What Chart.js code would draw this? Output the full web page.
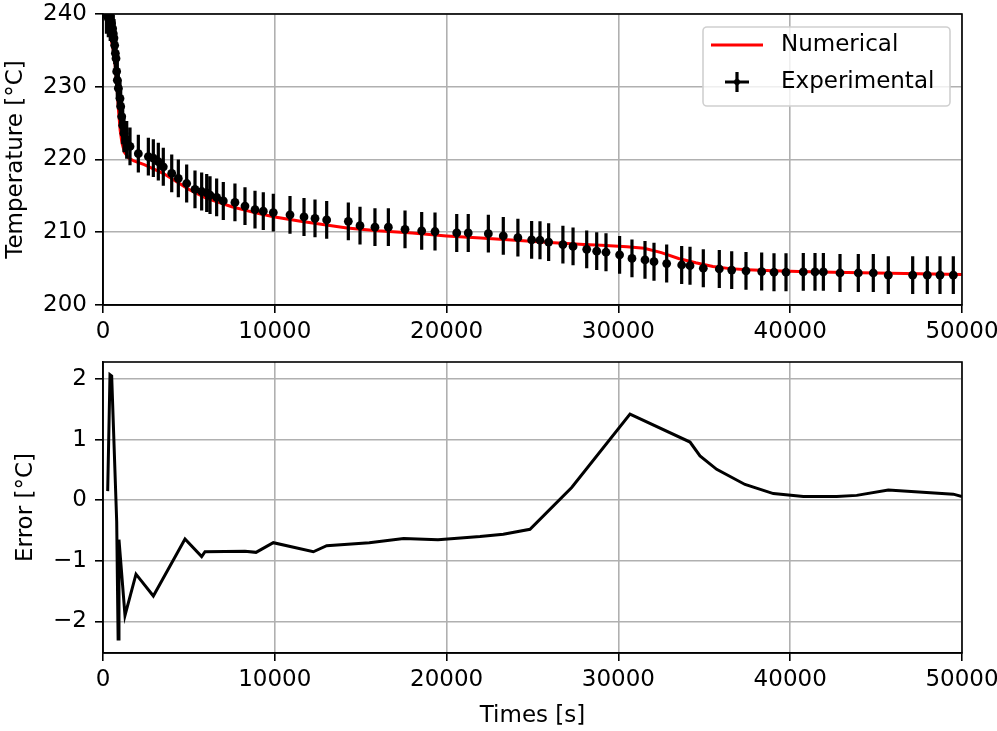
<!DOCTYPE html>
<html>
<head>
<meta charset="utf-8">
<script src="https://cdn.jsdelivr.net/npm/chart.js@4.4.1/dist/chart.umd.min.js"></script>
<style>
body { margin: 0; background: #fff; }
#wrap { position: relative; width: 997px; height: 731px; }
canvas { position: absolute; left: 0; }
</style>
</head>
<body>
<div id="wrap">
  <canvas id="tempChart" width="997" height="360" style="top:0"></canvas>
  <canvas id="errChart" width="997" height="391" style="top:340px"></canvas>
</div>
<script>
// Experimental measurements (time [s], temperature [°C])
var expTime = [200, 310, 420, 500, 560, 600, 640, 680, 720, 757, 795, 834, 893, 990, 1030, 1088, 1147, 1222, 1380, 1572,
    2057, 2640, 2930, 3220, 3510, 4000, 4385, 4870, 5355, 5743, 6036, 6230, 6615, 7002, 7680, 8265, 8848, 9330, 9913,
    10885, 11700, 12340, 13020, 14280, 14960, 15830, 16610, 17580, 18550, 19325, 20590, 21260, 22430, 23300, 24150,
    24950, 25436, 25940, 26770, 27360, 28155, 28737, 29278, 30070, 30790, 31548, 32072, 32810, 33683, 34168, 34942,
    35873, 36595, 37427, 38340, 39057, 39756, 40762, 41444, 41930, 42899, 43964, 44837, 45710, 47130, 47981, 48720, 49494];
var expTemp = [239.9, 239.4, 238.9, 238.7, 238.0, 237.3, 236.7, 235.7, 234.6, 233.9, 232.1, 230.9, 229.8, 228.4, 227.3, 225.9, 224.7, 223.6, 222.7, 221.8,
    220.8, 220.4, 220.2, 219.7, 219.0, 218.1, 217.4, 216.7, 215.9, 215.6, 215.4, 215.1, 214.8, 214.3, 214.1, 213.6, 213.1, 212.9, 212.7,
    212.4, 212.1, 211.9, 211.7, 211.5, 210.9, 210.7, 210.7, 210.4, 210.2, 210.1, 209.9, 209.9, 209.8, 209.5, 209.25,
    208.95, 208.9, 208.65, 208.3, 208.05, 207.65, 207.4, 207.25, 206.9, 206.4, 206.2, 205.95, 205.7, 205.5, 205.4, 205.05,
    204.95, 204.8, 204.7, 204.6, 204.5, 204.5, 204.55, 204.55, 204.55, 204.4, 204.4, 204.4, 204.1, 204.1, 204.1, 204.1, 204.1];
var expErr = 2.6;

// Numerical solution
var numTime = [0, 200, 400, 600, 700, 800, 900, 1000, 1100, 1250, 1500, 1800, 2400, 3500, 5000, 6000, 7500, 9000, 10000,
    11500, 13000, 14200, 16000, 18000, 20000, 22000, 24000, 26000, 28000, 29000, 30500, 31500, 32500, 33500, 34500,
    35500, 36500, 37500, 39000, 40500, 42500, 45000, 47500, 50000];
var numTemp = [240.5, 239.8, 237.5, 235.0, 233.2, 230.5, 226.8, 224.0, 222.3, 221.0, 220.2, 219.8, 219.3, 218.1, 215.9, 214.7, 213.5, 212.6, 212.1,
    211.5, 211.0, 210.6, 210.2, 209.9, 209.5, 209.2, 208.9, 208.6, 208.3, 208.2, 208.0, 207.8, 207.2, 206.4, 205.8,
    205.3, 205.0, 204.85, 204.7, 204.6, 204.5, 204.4, 204.3, 204.2];

// Error numerical - experimental
var errTime = [273, 407, 505, 797, 880, 930, 1280, 1921, 2930, 4773, 5743, 5937, 8265, 8906, 9914, 12243, 13020, 15500,
    17500, 19500, 21944, 23300, 24854, 27281, 30675, 34168, 34750, 35720, 37369, 39019, 40765, 42706, 43870, 45710, 49494, 50000];
var errVal = [0.15, 2.07, 2.05, -0.35, -2.29, -0.65, -1.90, -1.22, -1.58, -0.64, -0.93, -0.85, -0.84, -0.86, -0.70, -0.85, -0.75, -0.70,
    -0.63, -0.65, -0.60, -0.56, -0.48, 0.21, 1.42, 0.96, 0.73, 0.51, 0.26, 0.11, 0.06, 0.06, 0.08, 0.17, 0.10, 0.06];

var timeTicks = [0, 10000, 20000, 30000, 40000, 50000];
var tempTicks = [200, 210, 220, 230, 240];
var errTicks = [-2, -1, 0, 1, 2];

var FONT = { family: '"DejaVu Sans", sans-serif', size: 23 };
var GRID = '#b0b0b0';

function pts(xs, ys) {
    return xs.map(function (x, i) { return { x: x, y: ys[i] }; });
}
function fmt(v) {
    return String(v).replace('-', '\u2212');
}
function fixTicks(list) {
    return function (s) { s.ticks = list.map(function (v) { return { value: v }; }); };
}
function fixWidth(w) {
    return function (s) { s.width = w; s.paddingTop = 0; s.paddingBottom = 0; };
}
function fixHeight(h) {
    return function (s) { s.height = h; s.paddingLeft = 0; s.paddingRight = 0; };
}
function axisStyle() {
    return {
        grid: { color: GRID, lineWidth: 1.6, tickColor: '#000', tickWidth: 1.6, tickLength: 8 },
        border: { display: true, color: '#000', width: 1.6 },
    };
}

var frame = {
    id: 'frame',
    afterDraw: function (chart) {
        var a = chart.chartArea, ctx = chart.ctx;
        ctx.save();
        ctx.strokeStyle = '#000';
        ctx.lineWidth = 1.6;
        ctx.strokeRect(a.left, a.top, a.right - a.left, a.bottom - a.top);
        ctx.restore();
    }
};

var errorBars = {
    id: 'errorBars',
    beforeDatasetDraw: function (chart, args) {
        if (args.index !== 0) return;
        var ctx = chart.ctx, a = chart.chartArea;
        var xs = chart.scales.x, ys = chart.scales.y;
        ctx.save();
        ctx.beginPath();
        ctx.rect(a.left, a.top, a.right - a.left, a.bottom - a.top);
        ctx.clip();
        ctx.strokeStyle = '#000';
        ctx.lineWidth = 3.2;
        ctx.beginPath();
        for (var i = 0; i < expTime.length; i++) {
            var px = xs.getPixelForValue(expTime[i]);
            ctx.moveTo(px, ys.getPixelForValue(expTemp[i] + expErr));
            ctx.lineTo(px, ys.getPixelForValue(expTemp[i] - expErr));
        }
        ctx.stroke();
        ctx.restore();
    }
};

var legendBox = {
    id: 'legendBox',
    afterDraw: function (chart) {
        var ctx = chart.ctx, a = chart.chartArea;
        var w = 247, h = 79, x = a.right - 12 - w, y = a.top + 13;
        ctx.save();
        ctx.beginPath();
        ctx.roundRect(x, y, w, h, 4);
        ctx.fillStyle = 'rgba(255,255,255,0.8)';
        ctx.fill();
        ctx.strokeStyle = '#d0d0d0';
        ctx.lineWidth = 1.6;
        ctx.stroke();

        ctx.strokeStyle = '#ff0000';
        ctx.lineWidth = 3;
        ctx.beginPath();
        ctx.moveTo(x + 8, y + 18);
        ctx.lineTo(x + 60, y + 18);
        ctx.stroke();

        ctx.strokeStyle = '#000';
        ctx.lineWidth = 3.2;
        ctx.beginPath();
        ctx.moveTo(x + 22, y + 55);
        ctx.lineTo(x + 46, y + 55);
        ctx.moveTo(x + 34, y + 45);
        ctx.lineTo(x + 34, y + 65);
        ctx.stroke();
        ctx.beginPath();
        ctx.arc(x + 34, y + 55, 3, 0, Math.PI * 2);
        ctx.fillStyle = '#000';
        ctx.fill();

        ctx.font = FONT.size + 'px ' + FONT.family;
        ctx.textBaseline = 'middle';
        ctx.fillText('Numerical', x + 78, y + 18);
        ctx.fillText('Experimental', x + 78, y + 55);
        ctx.restore();
    }
};

Chart.defaults.font = FONT;
Chart.defaults.color = '#000';

new Chart(document.getElementById('tempChart').getContext('2d'), {
    type: 'scatter',
    data: {
        datasets: [{
            label: 'Experimental',
            data: pts(expTime, expTemp),
            pointRadius: 4.4,
            pointHoverRadius: 4.4,
            pointBackgroundColor: '#000',
            pointBorderWidth: 0,
            showLine: false,
            order: 0
        }, {
            label: 'Numerical',
            type: 'line',
            data: pts(numTime, numTemp),
            borderColor: '#ff0000',
            borderWidth: 3,
            pointRadius: 0,
            tension: 0,
            order: 1
        }]
    },
    options: {
        responsive: false,
        animation: false,
        devicePixelRatio: 1,
        layout: { padding: { left: 0, right: 35, top: 14, bottom: 0 } },
        plugins: { legend: { display: false }, tooltip: { enabled: false } },
        scales: {
            x: Object.assign(axisStyle(), {
                type: 'linear', min: 0, max: 50000,
                afterBuildTicks: fixTicks(timeTicks),
                afterFit: fixHeight(55),
                ticks: { callback: fmt, autoSkip: false, maxRotation: 0, padding: 5 }
            }),
            y: Object.assign(axisStyle(), {
                type: 'linear', min: 200, max: 240,
                afterBuildTicks: fixTicks(tempTicks),
                afterFit: fixWidth(103),
                ticks: { callback: fmt, autoSkip: false, padding: 8 },
                title: { display: true, text: 'Temperature [°C]', padding: { top: 2, bottom: 0 } }
            })
        }
    },
    plugins: [errorBars, frame, legendBox]
});

new Chart(document.getElementById('errChart').getContext('2d'), {
    type: 'scatter',
    data: {
        datasets: [{
            label: 'Error',
            type: 'line',
            data: pts(errTime, errVal),
            borderColor: '#000',
            borderWidth: 3,
            pointRadius: 0,
            tension: 0
        }]
    },
    options: {
        responsive: false,
        animation: false,
        devicePixelRatio: 1,
        layout: { padding: { left: 0, right: 35, top: 22, bottom: 0 } },
        plugins: { legend: { display: false }, tooltip: { enabled: false } },
        scales: {
            x: Object.assign(axisStyle(), {
                type: 'linear', min: 0, max: 50000,
                afterBuildTicks: fixTicks(timeTicks),
                afterFit: fixHeight(78),
                ticks: { callback: fmt, autoSkip: false, maxRotation: 0, padding: 5 },
                title: { display: true, text: 'Times [s]', padding: { top: 0, bottom: 1 } }
            }),
            y: Object.assign(axisStyle(), {
                type: 'linear', min: -2.52, max: 2.28,
                afterBuildTicks: fixTicks(errTicks),
                afterFit: fixWidth(103),
                ticks: { callback: fmt, autoSkip: false, padding: 8 },
                title: { display: true, text: 'Error [°C]', padding: { top: 12, bottom: 0 } }
            })
        }
    },
    plugins: [frame]
});
</script>
</body>
</html>
